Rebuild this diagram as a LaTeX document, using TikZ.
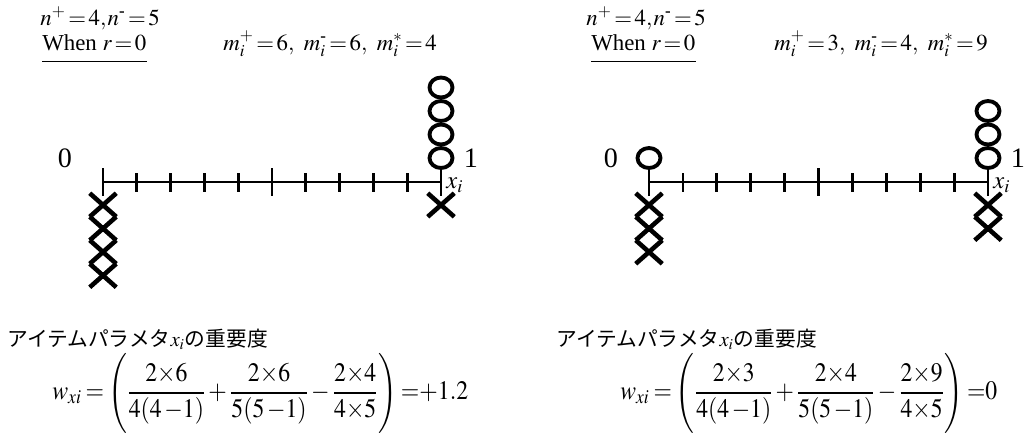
\documentclass[tikz,border=0pt]{standalone}
\usepackage{amsmath}
\usepackage{graphicx}
\usepackage{mathptmx}
\usepackage{fontspec}
\setmainfont{Liberation Serif}
\newfontfamily\jpfont{Noto Sans CJK JP}
\usetikzlibrary{shapes.misc,shapes.geometric}
\newcommand\dash{\text{\bfseries -}}
\newcommand\tallstrut{\rule[-19pt]{0pt}{42pt}}
\newcommand\eqs{\mskip-2mu=\mskip-2mu}

\begin{document}
\begin{tikzpicture}[x=0.02cm, y=-0.02cm,
      ring/.style={draw, ellipse, line width=2.2pt, minimum width=0.46cm, minimum height=0.40cm, inner sep=0pt},
      xmark/.style={draw, cross out, line width=2.6pt, minimum width=0.44cm, minimum height=0.38cm, inner sep=0pt},
      axisline/.style={line width=1.6pt},
      toptext/.style={anchor=base west, inner sep=0pt, font=\fontsize{13}{15}\selectfont},
      endtext/.style={inner sep=0pt, font=\fontsize{16}{18}\selectfont},
      vartext/.style={anchor=west, inner sep=0pt, font=\fontsize{14}{16}\selectfont},
      jptext/.style={anchor=west, inner sep=0pt, font=\jpfont\fontsize{11.8}{14}\selectfont},
      formula/.style={anchor=west, inner sep=0pt, font=\fontsize{15.5}{18}\selectfont}
    ]
    \useasboundingbox (0,0) rectangle (1028,437);

    % left panel
    \node[toptext] (countL) at (40,25) {$n^{+}\eqs4,\mskip-1mu n^{\dash}\eqs5$};
    \node[toptext] (whenL) at (42,50) {When $r\eqs0$};
    \draw[line width=0.6pt] ([yshift=-6.5pt]whenL.base west) -- ([yshift=-6.5pt]whenL.base east);
    \node[toptext] (mL) at (223,50) {$m_i^{+}\eqs6,\hspace{0.3em} m_i^{\dash}\eqs6,\hspace{0.3em} m_i^{*}\eqs4$};
    \coordinate (aL0) at (103,182);
    \coordinate (aL1) at (441,182);
    \draw[axisline] (aL0) -- (aL1);
    \foreach \k in {0,5,10} {
      \draw[axisline] ({103+33.8*\k},168) -- ++(0,28);
    }
    \foreach \k in {1,2,3,4,6,7,8,9} {
      \draw[axisline] ({103+33.8*\k},173) -- ++(0,19);
    }
    \node[endtext] (zeroL) at (65,158) {0};
    \node[endtext] (oneL) at (471,158) {1};
    \node[vartext] (xL) at (446,185) {$x_i$};
    \foreach \i in {1,...,4} {
      \node[ring] (oL\i) at (441,{158-23.5*(\i-1)}) {};
    }
    \foreach \i in {1,...,4} {
      \node[xmark] (nL\i) at (103,{205+23.5*(\i-1)}) {};
    }
    \node[xmark] (nLr) at (441,205) {};
    \node[jptext] (titleL) at (7,339) {アイテムパラメタ$x_i$の重要度};
    \node[formula] (wL) at (52,393) {\resizebox*{8.32cm}{1.6cm}{$w_{xi}\mskip3mu{=}\mskip1mu\left(\tallstrut\dfrac{2{\times}6}{4(4\mskip2mu{-}1)}\mskip2mu{+}\mskip2mu\dfrac{2{\times}6}{5(5\mskip2mu{-}1)}\mskip2mu{-}\mskip2mu\dfrac{2{\times}4}{4{\times}5}\right)\mskip1mu{=}{+}1.2$}};

    % right panel
    \node[toptext] (countR) at (586,25) {$n^{+}\eqs4,\mskip-1mu n^{\dash}\eqs5$};
    \node[toptext] (whenR) at (591,50) {When $r\eqs0$};
    \draw[line width=0.6pt] ([yshift=-6.5pt]whenR.base west) -- ([yshift=-6.5pt]whenR.base east);
    \node[toptext] (mR) at (774,50) {$m_i^{+}\eqs3,\hspace{0.3em} m_i^{\dash}\eqs4,\hspace{0.3em} m_i^{*}\eqs9$};
    \coordinate (aR0) at (649,182);
    \coordinate (aR1) at (988,182);
    \draw[axisline] (aR0) -- (aR1);
    \foreach \k in {0,5,10} {
      \draw[axisline] ({649+33.9*\k},168) -- ++(0,28);
    }
    \foreach \k in {1,2,3,4,6,7,8,9} {
      \draw[axisline] ({649+33.9*\k},173) -- ++(0,19);
    }
    \node[endtext] (zeroR) at (611,158) {0};
    \node[endtext] (oneR) at (1018,158) {1};
    \node[vartext] (xR) at (993,185) {$x_i$};
    \node[ring] (oR0) at (649,158) {};
    \foreach \i in {1,...,3} {
      \node[ring] (oR\i) at (988,{158-23.5*(\i-1)}) {};
    }
    \foreach \i in {1,...,3} {
      \node[xmark] (nR\i) at (649,{205+23.5*(\i-1)}) {};
    }
    \foreach \i in {1,2} {
      \node[xmark] (nRr\i) at (988,{205+23.5*(\i-1)}) {};
    }
    \node[jptext] (titleR) at (556,339) {アイテムパラメタ$x_i$の重要度};
    \node[formula] (wR) at (620,393) {\resizebox*{7.54cm}{1.6cm}{$w_{xi}\mskip3mu{=}\mskip1mu\left(\tallstrut\dfrac{2{\times}3}{4(4\mskip2mu{-}1)}\mskip2mu{+}\mskip2mu\dfrac{2{\times}4}{5(5\mskip2mu{-}1)}\mskip2mu{-}\mskip2mu\dfrac{2{\times}9}{4{\times}5}\right)\mskip1mu{=}0$}};
\end{tikzpicture}
\end{document}
